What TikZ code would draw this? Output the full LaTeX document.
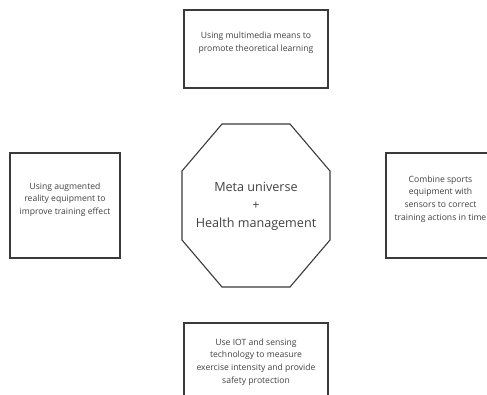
\documentclass[tikz,border=0pt]{standalone}
\usepackage{fontspec}
\setmainfont{Open Sans}
\definecolor{linec}{HTML}{3A3A3A}
\definecolor{textc}{HTML}{404040}
\begin{document}
\begin{tikzpicture}[x=1pt,y=-1pt,
  box/.style={draw=linec,line width=1.1pt},
  smalltext/.style={text=textc,align=center,font=\fontsize{8.6}{12.7}\selectfont,inner sep=0pt},
  bigtext/.style={text=textc,align=center,font=\fontsize{12.6}{18}\selectfont,inner sep=0pt}]
\useasboundingbox (0,0) rectangle (487,394);
\clip (0,0) rectangle (487,394);
% top box
\draw[box] (184,10) rectangle (328,88);
\node[smalltext] (top) at (256,43) {Using multimedia means to\\promote theoretical learning};
% left box
\draw[box] (10,153) rectangle (120,258);
\node[smalltext] (left) at (65,199.5) {Using augmented\\reality equipment to\\improve training effect};
% right box
\draw[box] (386,153) rectangle (500,258);
\node[smalltext] (right) at (440.5,199) {Combine sports\\equipment with\\sensors to correct\\training actions in time};
% bottom box
\draw[box] (184,323) rectangle (328,410);
\node[smalltext] (bottom) at (256,362) {Use IOT and sensing\\technology to measure\\exercise intensity and provide\\safety protection};
% octagon
\coordinate (o1) at (222,124);
\coordinate (o2) at (290,124);
\coordinate (o3) at (330,171);
\coordinate (o4) at (330,240);
\coordinate (o5) at (290,287);
\coordinate (o6) at (222,287);
\coordinate (o7) at (182,240);
\coordinate (o8) at (182,171);
\draw[box,line join=miter] (o1) -- (o2) -- (o3) -- (o4) -- (o5) -- (o6) -- (o7) -- (o8) -- cycle;
\node[bigtext] (center) at (256,206) {Meta universe\\+\\Health management};
\end{tikzpicture}
\end{document}
